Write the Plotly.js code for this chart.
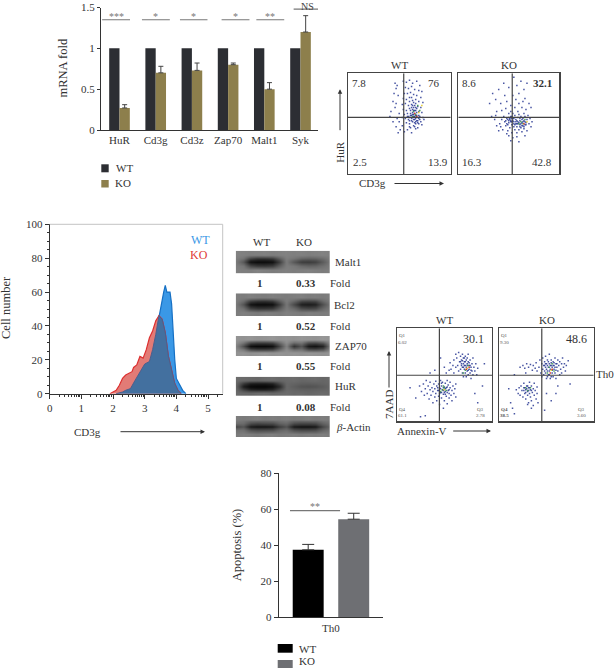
<!DOCTYPE html>
<html><head><meta charset="utf-8">
<script src="https://cdn.plot.ly/plotly-3.0.1.min.js"></script>
<style>html,body{margin:0;padding:0;background:#fff}</style></head>
<body><div id="chart" style="width:615px;height:668px"></div>
<script>
// ---------- data ----------
const genes = ['HuR','Cd3g','Cd3z','Zap70','Malt1','Syk'];
const mrnaWT = [1,1,1,1,1,1];
const mrnaKO = [0.27,0.7,0.73,0.8,0.5,1.2];
const mrnaKOErr = [0.04,0.08,0.09,0.02,0.08,0.2];
const sigLabels = ['***','*','*','*','**','NS'];
const sigStart = [-0.48,0.62,1.67,2.82,3.78,4.81];
const sigEnd = [0.29,1.39,2.43,3.59,4.55,5.58];
const sigLevel = [1.35,1.35,1.35,1.35,1.35,1.48];

const histWTx = [2.1,2.3,2.4,2.55,2.7,2.85,3.0,3.15,3.25,3.35,3.45,3.55,3.6,3.65,3.7,3.75,3.8,3.85,3.9,3.95,4.0,4.1,4.2,4.3];
const histWTy = [0,1,2,3,8,13,17.5,19,26,35,46,56,60,64,60,60,60,53,34,20,9,5,2,0];
const histKOx = [1.9,2.0,2.1,2.2,2.3,2.4,2.5,2.6,2.65,2.75,2.85,2.95,3.05,3.15,3.25,3.35,3.45,3.55,3.65,3.75,3.85,3.95,4.05,4.15];
const histKOy = [0,1,2,5,9,11,12,13,15.5,17,22,21,26,33,37,43,46,44,36,22,14,6,2,0];
const histBothx = [2.1,2.3,2.4,2.55,2.7,2.85,3.0,3.15,3.25,3.35,3.45,3.55,3.65,3.75,3.85,3.95,4.05,4.15];
const histBothy = [0,1,2,3,8,13,17.5,19,26,35,46,44,36,22,14,6,2,0];

const apoptosis = [37.5,54.5];
const apoptosisErr = [3,3.3];

const foldWT = ['1','1','1','1'];
const foldKO = ['0.33','0.52','0.55','0.08'];
const blotNames = ['Malt1','Bcl2','ZAP70','HuR'];

const blotMalt1 = [
 [128,126,125,130,127,124,126,128,125,127,129,126,124,128],
 [125,118,72,58,56,62,96,125,120,106,100,102,112,125],
 [122,88,18,12,12,16,62,124,88,62,60,66,92,124],
 [126,116,68,52,52,60,94,126,118,102,98,100,110,126],
 [130,128,126,127,129,126,128,130,127,129,126,128,130,127]];
const blotBcl2 = [
 [124,128,125,122,127,125,122,128,125,123,127,125,124,126],
 [124,112,66,54,54,58,92,122,106,76,70,74,104,124],
 [122,84,20,12,12,16,60,120,74,32,28,34,80,122],
 [126,110,64,52,50,58,94,124,104,72,68,72,106,126],
 [126,124,128,125,124,127,125,123,126,128,124,126,123,127]];
const blotZAP = [
 [146,148,144,147,150,146,148,145,148,146,149,147,145,148],
 [140,122,78,66,66,72,108,140,112,116,82,78,88,140],
 [132,80,16,10,10,16,68,132,52,86,26,20,36,132],
 [142,118,74,64,64,70,106,142,110,118,80,76,92,142],
 [148,146,149,145,147,150,146,148,145,149,147,146,150,147]];
const blotHuR = [
 [106,104,102,106,108,103,105,108,104,106,102,105,107,104],
 [104,62,34,28,28,36,72,104,100,96,96,98,100,104],
 [102,28,8,6,6,12,40,104,94,84,82,84,92,104],
 [104,58,30,26,26,34,70,104,100,95,94,96,100,104],
 [108,106,104,102,106,108,104,106,108,103,105,107,102,106]];
const blotActin = [
 [122,126,124,120,125,127,122,124,126,122,125,123,126,122],
 [112,112,84,76,78,80,100,108,82,74,74,78,102,116],
 [70,84,28,20,20,26,60,82,26,18,18,24,70,104],
 [110,108,80,72,76,78,98,106,78,72,72,76,100,114],
 [126,122,124,127,122,125,123,126,122,124,127,123,125,122]];

const cd3WTblue = [[46,90],[47,85],[48,88],[45,80],[49,78],[44,72],[47,70],[42,62],[46,66],[50,60],[41,57],[48,55],[44,52],[50,52],[53,48],[47,47],[51,44],[49,41],[55,42],[58,44],[62,41],[66,45],[60,47],[64,48],[54,92],[57,91],[60,93],[63,90],[67,92],[70,88],[56,86],[59,85],[62,87],[65,84],[69,83],[72,82],[55,80],[58,80],[61,81],[64,79],[67,78],[71,76],[54,75],[57,74],[60,76],[63,73],[66,74],[69,72],[73,71],[53,69],[56,70],[59,68],[62,69],[65,68],[68,67],[71,66],[54,64],[57,63],[60,65],[63,64],[66,63],[69,62],[72,61],[55,59],[58,60],[61,58],[64,59],[67,58],[70,57],[73,56],[53,56],[56,55],[59,54],[62,55],[65,54],[68,53],[71,52],[74,54],[57,51],[60,50],[63,52],[66,50],[69,50],[72,49],[61,46],[65,47],[68,46],[58,57],[63,61],[66,66],[60,72],[64,71],[62,76],[62,58],[63,56],[64,54],[65,57],[66,55],[67,53],[68,56],[69,55],[67,61],[65,63],[64,66],[66,70],[63,68],[61,60],[60,56],[62,53],[64,57],[66,52],[68,51],[70,54],[65,51],[63,59],[61,63],[62,66],[65,60],[67,65],[64,63],[69,58],[60,53],[59,57],[66,58]];
const cd3WTcore = [[64,62],[66,59],[68,68],[63,57],[70,63]];
const cd3WThot = [[69,61],[72,68]];
const cd3WTpeak = [[65,60],[67,57]];
const cd3KOblue = [[34,80],[37,74],[40,84],[42,70],[45,90],[46,78],[48,72],[50,86],[52,68],[47,65],[38,62],[43,63],[33,57],[36,54],[31,70],[55,96],[58,88],[60,80],[62,92],[65,84],[66,75],[68,90],[70,70],[64,72],[60,70],[57,74],[54,78],[56,66],[63,66],[67,64],[72,66],[59,62],[52,62],[41,50],[43,54],[42,47],[44,44],[46,52],[45,57],[47,48],[48,55],[49,43],[50,60],[50,51],[51,46],[52,57],[52,53],[53,49],[53,41],[54,55],[54,60],[55,47],[55,52],[56,58],[56,44],[57,50],[57,54],[58,41],[58,47],[59,56],[59,52],[60,44],[60,59],[61,49],[61,53],[62,46],[62,57],[63,51],[63,42],[64,55],[64,48],[65,60],[65,45],[66,52],[66,57],[67,49],[68,54],[68,43],[69,58],[70,50],[71,55],[72,47],[73,52],[40,43],[38,48],[50,38],[54,36],[48,40],[58,37],[60,32],[52,33],[66,38],[37,58],[50,56],[51,55],[52,56],[53,57],[51,54],[53,55],[49,54],[52,52],[50,53],[54,53],[55,50],[56,49],[57,52],[58,53],[59,50],[60,51],[61,55],[62,50],[63,48],[64,52],[65,53],[66,49],[67,51],[47,53],[48,50],[49,49],[53,52],[55,55],[58,50],[61,47],[63,54],[65,47]];
const cd3KOcore = [[62,52],[64,50],[60,50],[66,54]];
const cd3KOhot = [[68,52]];
const cd3KOpeak = [[65,50]];
const annWTblue = [[60,66],[62,72],[64,60],[63,68],[65,74],[66,64],[67,70],[67,56],[68,60],[68,66],[69,52],[69,72],[70,62],[70,68],[70,48],[71,56],[71,64],[72,52],[72,60],[72,70],[73,66],[73,48],[74,54],[74,60],[75,64],[75,50],[75,72],[76,56],[76,60],[77,52],[77,66],[78,46],[78,58],[79,62],[79,54],[80,50],[80,68],[81,58],[82,54],[83,62],[84,50],[85,57],[62,58],[65,54],[59,60],[60,52],[57,56],[56,63],[24,38],[26,32],[28,40],[29,28],[30,35],[31,44],[32,30],[33,38],[34,24],[35,34],[35,42],[36,28],[37,36],[38,20],[38,32],[39,40],[40,26],[40,35],[41,30],[41,43],[42,22],[42,38],[43,33],[44,27],[44,40],[45,36],[45,18],[46,31],[46,44],[47,25],[47,38],[48,34],[48,42],[49,29],[49,14],[50,37],[50,22],[51,32],[51,41],[52,27],[52,36],[53,44],[53,19],[54,33],[54,39],[55,25],[55,30],[56,36],[56,42],[57,28],[58,33],[58,22],[59,38],[60,30],[61,35],[62,26],[62,40],[40,55],[46,68],[50,58],[35,52],[90,38],[85,20],[82,30],[30,6],[25,5],[14,36],[20,25],[92,62],[55,55],[52,52],[44,33],[45,30],[46,35],[47,31],[49,33],[49,36],[51,35],[51,29],[53,31],[53,37],[55,34],[43,36],[47,41],[50,31],[68,62],[69,65],[70,58],[71,60],[72,64],[73,58],[74,62],[75,55],[76,63],[77,60],[69,58],[67,64],[71,68],[74,68],[78,55]];
const annWTcore = [[48,34],[50,36],[46,32],[52,33],[49,38],[72,55],[75,60],[70,52]];
const annWThot = [[50,34],[74,57]];
const annWTpeak = [[76,58],[73,56]];
const annKOblue = [[42,58],[43,66],[44,52],[45,62],[45,48],[46,68],[46,56],[47,60],[47,50],[48,64],[48,54],[49,70],[49,58],[50,46],[50,62],[51,54],[51,66],[52,58],[52,50],[53,62],[53,72],[54,56],[54,46],[55,60],[55,66],[56,52],[56,58],[57,64],[57,48],[58,56],[58,60],[59,68],[59,52],[60,62],[60,46],[61,58],[62,54],[62,66],[63,60],[64,50],[64,64],[65,56],[66,62],[66,52],[67,68],[68,58],[69,62],[70,54],[71,60],[73,65],[25,60],[27,57],[29,62],[31,58],[33,61],[35,55],[36,60],[38,57],[39,63],[40,54],[28,52],[22,58],[16,50],[18,34],[20,30],[21,36],[22,28],[23,38],[24,33],[25,26],[26,36],[26,41],[27,30],[28,34],[28,24],[29,38],[30,28],[30,32],[31,36],[31,20],[32,42],[32,30],[33,34],[33,26],[34,38],[34,22],[35,31],[36,35],[36,17],[37,28],[37,41],[38,33],[39,24],[40,37],[40,30],[41,20],[30,18],[34,14],[12,20],[14,14],[10,35],[16,8],[60,30],[50,30],[62,38],[55,22],[48,12],[75,40],[48,60],[49,62],[50,56],[51,60],[52,64],[53,54],[54,60],[55,63],[56,55],[57,60],[58,63],[59,58],[60,55],[61,62],[49,52],[51,48],[53,50],[55,48],[26,33],[27,36],[28,31],[29,35],[31,33],[32,36],[34,33],[30,38]];
const annKOcore = [[53,58],[56,62],[51,52],[58,54],[28,36],[30,33],[33,36]];
const annKOhot = [[55,55]];
const annKOpeak = [[56,56],[54,52]];

// ---------- layout helpers ----------
const W = 615, H = 668, serif = '"Liberation Serif", serif', ink = '#333333';
const traces = [], annotations = [], shapes = [], layout = {};
function place(n, x0, x1, y0, y1, xopt, yopt) {
  const s = n === 1 ? '' : n;
  layout['xaxis' + s] = Object.assign({domain:[x0/W, x1/W], anchor:'y'+s, showgrid:false, zeroline:false, fixedrange:true,
    tickfont:{family:serif,size:11,color:ink}}, xopt);
  layout['yaxis' + s] = Object.assign({domain:[1-y1/H, 1-y0/H], anchor:'x'+s, showgrid:false, zeroline:false, fixedrange:true,
    tickfont:{family:serif,size:11,color:ink}}, yopt);
  return {xaxis:'x'+s, yaxis:'y'+s};
}
function txt(text, px, py, o) {
  o = o || {};
  annotations.push({text, x:px/W, y:1-py/H, xref:'paper', yref:'paper', showarrow:false, xanchor:'center', yanchor:'middle',
    textangle:o.angle||0, font:{family:serif, size:o.size||11, color:o.color||ink}});
}
function arrow(x0, y0, x1, y1) {
  annotations.push({text:'', x:x1/W, y:1-y1/H, xref:'paper', yref:'paper', showarrow:true, axref:'pixel', ayref:'pixel',
    ax:x0-x1, ay:y0-y1, arrowhead:2, arrowsize:0.9, arrowwidth:1, arrowcolor:'#333'});
}
function swatch(x0, x1, y0, y1, color) {
  shapes.push({type:'rect', xref:'paper', yref:'paper', x0:x0/W, x1:x1/W, y0:1-y1/H, y1:1-y0/H, fillcolor:color, line:{width:0}});
}
const axisLine = {showline:true, linecolor:'#333', linewidth:1};

// ---------- panel A: mRNA fold ----------
let ax = place(1, 101, 318, 7.5, 130,
  Object.assign({type:'linear', range:[-0.511,5.483], tickmode:'array', tickvals:genes.map((g,i)=>i), ticktext:genes, ticks:''}, axisLine),
  Object.assign({range:[0,1.5], tickmode:'array', tickvals:[0,0.5,1,1.5], ticktext:['0','0.5','1','1.5'], ticks:'outside', ticklen:3, tickcolor:'#333'}, axisLine));
const idx = genes.map((g,i)=>i);
traces.push(Object.assign({type:'bar', x:idx, y:mrnaWT, marker:{color:'#2c2e33'}, name:'WT'}, ax));
traces.push(Object.assign({type:'bar', x:idx, y:mrnaKO, marker:{color:'#8d7f4c'}, name:'KO',
  error_y:{type:'data', array:mrnaKOErr, symmetric:false, arrayminus:mrnaKOErr.map(()=>0), color:'#444', thickness:1, width:2.5}}, ax));
sigLabels.forEach((s,i)=>{
  traces.push(Object.assign({type:'scatter', mode:'lines', x:[sigStart[i],sigEnd[i]], y:[sigLevel[i],sigLevel[i]], cliponaxis:false,
    line:{color:'#777',width:1.2}, hoverinfo:'skip'}, ax));
  annotations.push({text:s, xref:'x', yref:'y', x:(sigStart[i]+sigEnd[i])/2, y:sigLevel[i], showarrow:false, yanchor:'middle',
    yshift: s==='NS'? 3 : 3, font:{family:serif, size:s==='NS'?10:10, color: s==='NS'?'#444':'#777'}});
});
txt('mRNA fold', 62, 68.5, {angle:-90, size:12.5});
swatch(101.3,108.7,164.3,172.3,'#2c2e33'); txt('WT',124,168);
swatch(101.3,108.7,180,187.5,'#8d7f4c'); txt('KO',123,183.5);

// ---------- panel B: CD3g / HuR flow plots ----------
const frame = {showline:true, mirror:true, linecolor:'#444', linewidth:1.2, showticklabels:false, ticks:'', range:[0,100]};
function flow(n, x0, x1, y0, y1, cx, cy, blue, core, hot, peak) {
  const a = place(n, x0, x1, y0, y1, frame, frame);
  [[blue,'#1c2c8c',0.8],[core,'#3c9a4a',0.9],[hot,'#e8d030',1],[peak,'#d8402a',1]].forEach(([pts,c,op])=>{
    traces.push(Object.assign({type:'scatter', mode:'markers', x:pts.map(p=>p[0]), y:pts.map(p=>p[1]),
      marker:{size:1.5, color:c, symbol:'square', opacity:op, line:{width:0}}, hoverinfo:'skip'}, a));
  });
  traces.push(Object.assign({type:'scatter', mode:'lines', x:[cx,cx,null,0,100], y:[0,100,null,cy,cy],
    line:{color:'#444',width:1.2}, hoverinfo:'skip'}, a));
}
flow(2, 347.7,450.7,73.3,174, 54.4,56.3, cd3WTblue,cd3WTcore,cd3WThot,cd3WTpeak);
flow(3, 458.3,559.3,73.3,174, 53.4,56.3, cd3KOblue,cd3KOcore,cd3KOhot,cd3KOpeak);
txt('WT',399,65,{size:11}); txt('KO',509,65,{size:11});
txt('7.8',359,83); txt('76',434,83); txt('2.5',359.7,161.7); txt('13.9',438,161.7);
txt('8.6',469.3,83); txt('<b>32.1</b>',542,83); txt('16.3',472,161.7); txt('42.8',542,161.7);
txt('HuR',340,152.7,{angle:-90}); arrow(340,131.7,340,89.3);
txt('CD3g',372.7,183.5); arrow(393,183.5,444,183.5);

// ---------- panel C: histogram ----------
const decade = [0.3,0.48,0.6,0.7,0.78,0.85,0.9,0.95];
const xMinor = [0,1,2,3,4,5].reduce((acc,d)=>acc.concat(decade.map(v=>d+v)),[]).filter(v=>v<5.46);
ax = place(4, 49.7, 222.7, 224.3, 393.7,
  Object.assign({range:[0,5.464], tickmode:'array', tickvals:[0,1,2,3,4,5], ticks:'outside', ticklen:4, tickcolor:'#333',
    minor:{tickmode:'array', tickvals:xMinor, ticks:'outside', ticklen:2, tickcolor:'#333'}}, axisLine),
  Object.assign({range:[0,100], tickmode:'array', tickvals:[0,20,40,60,80,100], ticks:'outside', ticklen:4, tickcolor:'#333',
    minor:{dtick:5, ticks:'outside', ticklen:2, tickcolor:'#333'}}, axisLine));
shapes.push({type:'line', xref:'paper', yref:'paper', x0:49.7/W, x1:222.7/W, y0:1-224.3/H, y1:1-224.3/H, line:{color:'#c4c4c4',width:1}});
shapes.push({type:'line', xref:'paper', yref:'paper', x0:222.7/W, x1:222.7/W, y0:1-224.3/H, y1:1-393.7/H, line:{color:'#c4c4c4',width:1}});
traces.push(Object.assign({type:'scatter', mode:'lines', x:histWTx, y:histWTy, fill:'tozeroy', fillcolor:'#3a98e6', line:{color:'#1670c4',width:1.2}, hoverinfo:'skip'}, ax));
traces.push(Object.assign({type:'scatter', mode:'lines', x:histKOx, y:histKOy, fill:'tozeroy', fillcolor:'#e27b76', line:{color:'#dd3030',width:1.2}, hoverinfo:'skip'}, ax));
traces.push(Object.assign({type:'scatter', mode:'lines', x:histBothx, y:histBothy, fill:'tozeroy', fillcolor:'#43709f', line:{color:'#4d5f8c',width:1}, hoverinfo:'skip'}, ax));
txt('WT',200,240,{color:'#3a98e6',size:12}); txt('KO',199,255.5,{color:'#e03a36',size:12});
txt('Cell number',6,308,{angle:-90,size:12.5});
txt('CD3g',87.7,431.7); arrow(119,431.7,205,431.7);

// ---------- panel D: western blots ----------
const blank = {showline:false, showticklabels:false, ticks:''};
function blot(n, y0, y1, grid) {
  const rows = [grid[0]].concat(grid, [grid[4]]);
  const a = place(n, 235.7, 330, y0, y1, Object.assign({range:[0,13]},blank), Object.assign({range:[0,6]},blank));
  traces.push(Object.assign({type:'heatmap', z:rows, zmin:0, zmax:255, zsmooth:'best', showscale:false, hoverinfo:'skip',
    colorscale:[[0,'#000000'],[1,'#ffffff']]}, a));
}
blot(5,250.7,273.3,blotMalt1); blot(6,293.3,316,blotBcl2); blot(7,336,356,blotZAP); blot(8,376.7,396,blotHuR); blot(9,416,437.3,blotActin);
txt('WT',261.7,242.3); txt('KO',304.3,242.3);
txt(blotNames[0],347.7,261.7); txt(blotNames[1],344.3,304.7); txt(blotNames[2],350.7,345.7); txt(blotNames[3],345.7,386);
txt('<i>β</i>-Actin',353.3,426.7);
[283.3,325.7,366,406.7].forEach((y,i)=>{
  txt('<b>'+foldWT[i]+'</b>',260,y); txt('<b>'+foldKO[i]+'</b>',306.3,y); txt('Fold',340.7,y);
});

// ---------- panel E: Annexin-V / 7AAD flow plots ----------
flow(10, 396.7,492,328.3,421.3, 44.8,49.5, annWTblue,annWTcore,annWThot,annWTpeak);
flow(11, 499.3,593.7,328.3,421.3, 45,49.5, annKOblue,annKOcore,annKOhot,annKOpeak);
txt('WT',444,320); txt('KO',546.7,320);
txt('30.1',473.3,338.7,{size:12}); txt('48.6',576,338.7,{size:12});
const q = {size:5, color:'#555'};
txt('Q1',402.3,335,q); txt('6.02',402.3,342,q); txt('Q4',402.3,409,q); txt('61.1',402.3,415.7,q);
txt('Q3',480,409,q); txt('2.78',480,415.7,q);
txt('Q1',504.3,335,q); txt('9.30',504.3,342,q); txt('<b>Q4</b>',504.3,409,q); txt('<b>38.5</b>',504.3,415.7,q);
txt('Q3',581.7,409,q); txt('3.60',581.7,415.7,q);
txt('Th0',605,374.3);
txt('7AAD',389,405,{angle:-90}); arrow(389,389,389,351);
txt('Annexin-V',421.7,430.7); arrow(451.7,431,491,431);

// ---------- panel F: apoptosis ----------
ax = place(12, 278.7, 383.3, 473.3, 617.3,
  Object.assign({type:'linear', range:[-0.648,1.65], tickmode:'array', tickvals:[0.5], ticktext:['Th0'], ticks:''}, axisLine),
  Object.assign({range:[0,80], tickmode:'array', tickvals:[0,20,40,60,80], ticks:'outside', ticklen:4, tickcolor:'#333'}, axisLine));
['#000000','#6e6f73'].forEach((c,i)=>{
  traces.push(Object.assign({type:'bar', x:[i], y:[apoptosis[i]], width:0.68, marker:{color:c},
    error_y:{type:'data', array:[apoptosisErr[i]], arrayminus:[0], symmetric:false, color:'#333', thickness:1, width:6}}, ax));
});
traces.push(Object.assign({type:'scatter', mode:'lines', x:[-0.4,0.7], y:[59.3,59.3], line:{color:'#777',width:1.2}, hoverinfo:'skip'}, ax));
annotations.push({text:'**', xref:'x12', yref:'y12', x:0.15, y:59.3, showarrow:false, yshift:4, font:{family:serif,size:10,color:'#777'}});
txt('Apoptosis (%)',237.3,545,{angle:-90,size:12.5});
swatch(277.7,292.7,644,652.7,'#000000'); txt('WT',307.7,648.7);
swatch(277.7,292.7,660,668,'#6e6f73'); txt('KO',307,661);

Object.assign(layout, {width:W, height:H, autosize:false, margin:{l:0,r:0,t:0,b:0}, showlegend:false,
  barmode:'group', bargap:0.43, bargroupgap:0,
  paper_bgcolor:'#fff', plot_bgcolor:'rgba(0,0,0,0)', annotations, shapes, font:{family:serif}});
Plotly.newPlot('chart', traces, layout, {staticPlot:true, displayModeBar:false});
</script></body></html>
